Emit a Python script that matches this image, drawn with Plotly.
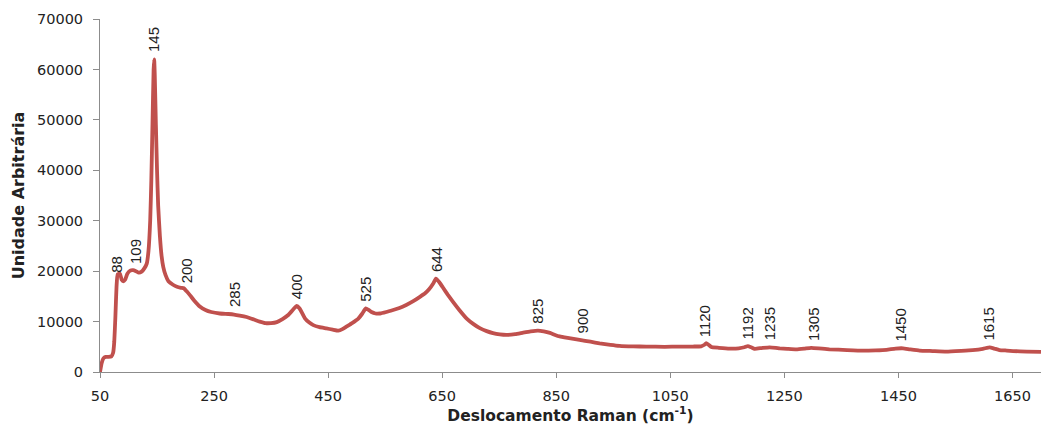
import numpy as np
import plotly.graph_objects as go

shift = [50, 53, 56, 60, 65, 70, 73, 75, 77, 79, 81, 85, 88, 91, 94, 98, 103, 108, 113, 118,
         123, 128, 132, 135, 138, 140, 142, 144, 145, 146, 148, 150, 152, 155, 158, 161, 165, 170,
         178, 185, 192, 197, 202, 208, 215, 225, 235, 245, 260, 275, 285, 295, 307, 320, 330, 340,
         350, 360, 370, 380, 388, 395, 400, 409, 417, 424, 435, 447, 458, 468, 475, 482, 492, 503,
         510, 516, 521, 526, 533, 541, 552, 564, 575, 587, 600, 611, 620, 627, 634, 639, 645, 651,
         660, 669, 680, 693, 705, 716, 728, 739, 751, 763, 778, 792, 805, 818, 828, 839, 848, 856,
         870, 891, 910, 926, 945, 961, 985, 1008, 1040, 1066, 1090, 1104, 1110, 1113, 1117, 1122,
         1135, 1154, 1170, 1180, 1186, 1192, 1198, 1210, 1224, 1235, 1242, 1255, 1271, 1285, 1297,
         1310, 1329, 1360, 1388, 1410, 1429, 1445, 1458, 1470, 1487, 1510, 1534, 1560, 1580, 1598,
         1610, 1618, 1627, 1640, 1651, 1675, 1700]

intensity = [0, 1800, 2700, 3000, 3000, 3100, 3800, 6000, 11000, 17000, 19400, 19500, 18300, 18000,
             18300, 19500, 20100, 20200, 20000, 19700, 19900, 20600, 21500, 24000, 30000, 38000,
             49000, 60000, 62000, 59000, 49000, 40000, 33000, 27000, 23000, 20800, 19200, 18000,
             17300, 16900, 16700, 16600, 16000, 15200, 14200, 13000, 12300, 11900, 11600, 11500,
             11400, 11200, 10900, 10400, 10000, 9700, 9700, 9900, 10500, 11300, 12300, 13100, 12600,
             10700, 9800, 9300, 8900, 8650, 8400, 8200, 8500, 9000, 9700, 10600, 11600, 12600, 12300,
             11900, 11600, 11600, 11900, 12300, 12700, 13300, 14100, 14900, 15600, 16400, 17500,
             18500, 17800, 16800, 15300, 13900, 12300, 10600, 9500, 8700, 8100, 7700, 7450, 7350,
             7500, 7800, 8050, 8200, 8050, 7750, 7350, 7050, 6750, 6350, 6000, 5700, 5400, 5200,
             5080, 5030, 5000, 5030, 5050, 5100, 5400, 5700, 5400, 4950, 4800, 4650, 4700, 4900,
             5150, 4900, 4600, 4750, 4900, 4800, 4700, 4600, 4500, 4650, 4800, 4700, 4500, 4350,
             4250, 4300, 4400, 4650, 4700, 4500, 4250, 4150, 4050, 4200, 4350, 4600, 4900, 4650,
             4350, 4250, 4150, 4050, 4000]

peak_labels = ["88", "109", "145", "200", "285", "400", "525", "644", "825", "900",
               "1120", "1192", "1235", "1305", "1450", "1615"]
label_x = [80, 111, 145, 201, 285, 395, 516, 639, 817, 896, 1110, 1185, 1224, 1301, 1454, 1608]

x_ticks = [50, 250, 450, 650, 850, 1050, 1250, 1450, 1650]
y_ticks = [0, 10000, 20000, 30000, 40000, 50000, 60000, 70000]

fig = go.Figure()
fig.add_trace(go.Scatter(
    x=shift, y=intensity, mode="lines",
    line=dict(color="#C0504D", width=3.8, shape="spline", smoothing=0.4),
    hoverinfo="skip", showlegend=False,
))

label_base = np.interp(label_x, shift, intensity)
for txt, lx, ly in zip(peak_labels, label_x, label_base):
    fig.add_annotation(
        x=lx, y=ly, text=txt, textangle=-90, showarrow=False,
        xanchor="center", yanchor="bottom", yshift=5,
        font=dict(family="Liberation Sans", size=15, color="#222222"),
    )

axis_font = dict(family="DejaVu Sans", size=14.5, color="#222222")
fig.update_layout(
    width=1041, height=427,
    margin=dict(l=100, r=0, t=19, b=55, autoexpand=False),
    paper_bgcolor="white", plot_bgcolor="white",
    xaxis=dict(
        range=[50, 1700], tickvals=x_ticks, ticktext=[str(v) for v in x_ticks],
        showgrid=False, zeroline=False, showline=True, linecolor="#8C8C8C", linewidth=1,
        ticks="outside", ticklen=5, tickcolor="#8C8C8C", tickfont=axis_font,
        ticklabelstandoff=6, automargin=False,
        title=dict(text="Deslocamento Raman (cm<sup>-1</sup>)", standoff=5,
                   font=dict(family="DejaVu Sans", size=15.5, color="#222222", weight="bold")),
    ),
    yaxis=dict(
        range=[0, 70000], tickvals=y_ticks, ticktext=[str(v) for v in y_ticks],
        showgrid=False, zeroline=False, showline=True, linecolor="#8C8C8C", linewidth=1,
        ticks="outside", ticklen=6, tickcolor="#8C8C8C", tickfont=axis_font,
        ticklabelstandoff=7, automargin=False,
        title=dict(text="Unidade Arbitrária", standoff=8,
                   font=dict(family="DejaVu Sans", size=16, color="#222222", weight="bold")),
    ),
)

fig.write_html("out.html", config={"displayModeBar": False},
               post_script="document.body.style.margin='0';")
